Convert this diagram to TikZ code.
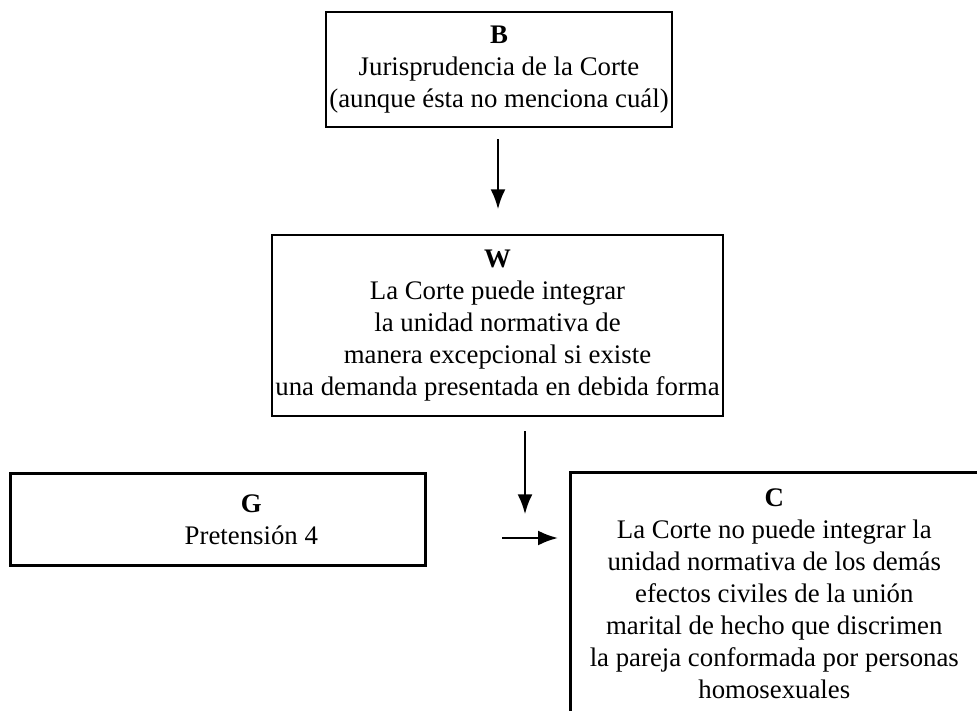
\documentclass[tikz,border=0pt]{standalone}
\usepackage{fontspec}
\setmainfont{Liberation Serif}
\usetikzlibrary{arrows.meta}
\begin{document}
\begin{tikzpicture}[x=1pt,y=-1pt,
  boxline/.style={draw=black, line width=2.6pt},
  txt/.style={font=\fontsize{26.8}{32}\selectfont},
  boxnode/.style={boxline, txt, inner sep=0pt, align=center},
  arr/.style={line width=2.4pt, -{Latex[length=20pt,width=15pt]}}]
\useasboundingbox (0,0) rectangle (977,711);
\node[boxnode, minimum width=346pt, minimum height=115pt] (B) at (499,69.5)
  {\textbf{B}\\Jurisprudencia de la Corte\\(aunque ésta no menciona cuál)};
\node[boxnode, minimum width=451pt, minimum height=181pt] (W) at (497.5,325.5)
  {\textbf{W}\\La Corte puede integrar\\la unidad normativa de\\manera excepcional si existe\\una demanda presentada en debida forma};
\node[boxline, txt, inner sep=0pt, minimum height=92pt, anchor=north west] (G) at (9,472)
  {\hspace*{67pt}\parbox{348pt}{\centering\textbf{G}\\Pretensión 4}};
\node[boxline, txt, inner xsep=0pt, inner ysep=16pt, anchor=north west] (C) at (569,471)
  {\parbox[t][255pt][t]{408pt}{\centering\textbf{C}\\La Corte no puede integrar la\\unidad normativa de los demás\\efectos civiles de la unión\\marital de hecho que discrimen\\la pareja conformada por personas\\homosexuales}\hspace*{30pt}};
\draw[arr] ([xshift=-1pt,yshift=-11pt]B.south) -- ++(0,70);
\draw[arr] ([xshift=27.5pt,yshift=-14pt]W.south) -- ++(0,83);
\draw[arr] ([xshift=-67pt,yshift=-67pt]C.north west) -- ([xshift=-11pt,yshift=-67pt]C.north west);
\end{tikzpicture}
\end{document}
